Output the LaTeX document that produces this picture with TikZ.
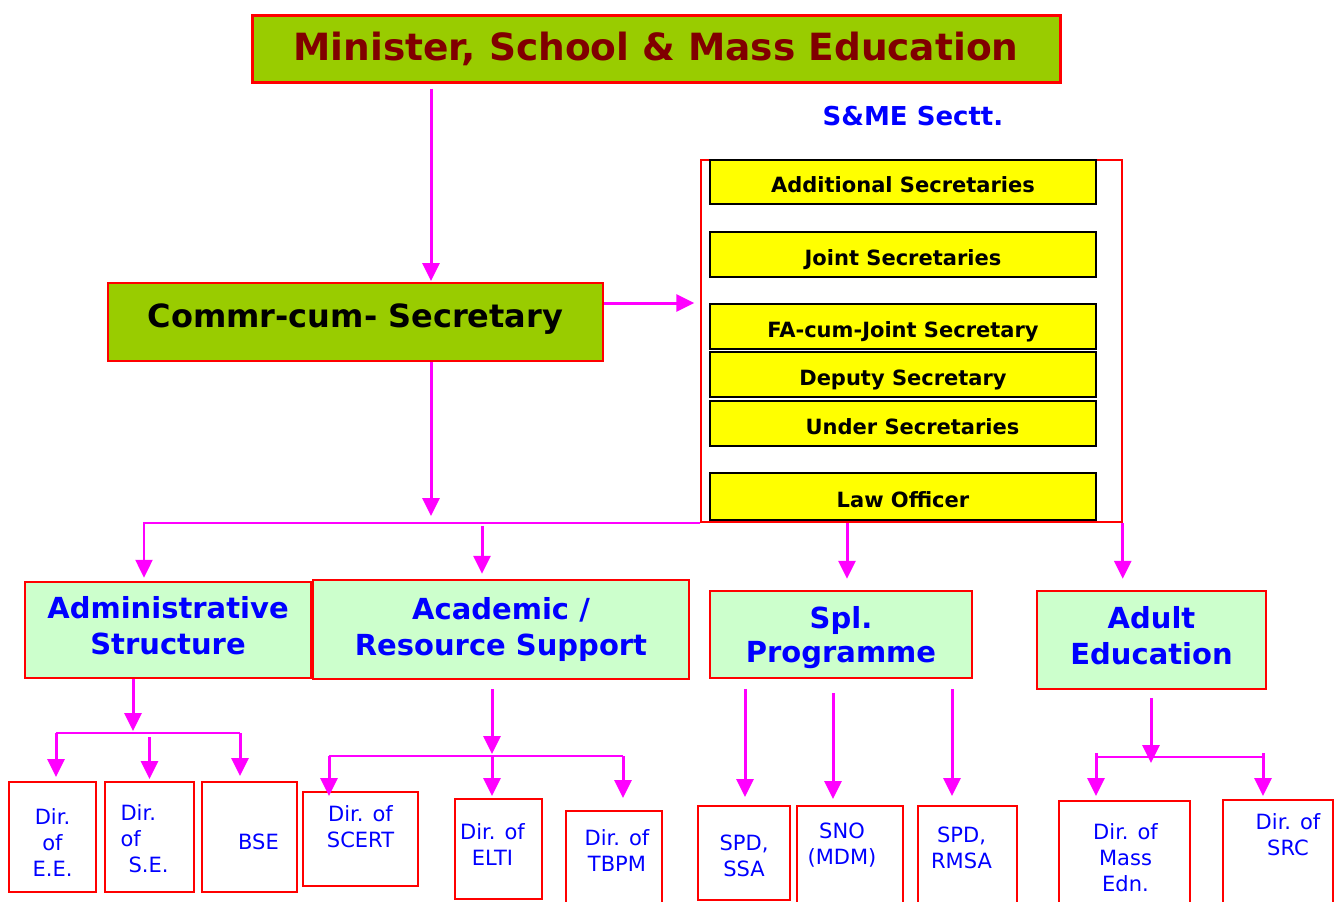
\documentclass[tikz,border=0pt]{standalone}
\usepackage{fontspec}
\setmainfont{DejaVu Sans}
\usetikzlibrary{arrows.meta,positioning,calc}
\definecolor{leaf}{HTML}{99CC00}
\definecolor{mint}{HTML}{CCFFCC}
\definecolor{maroon}{HTML}{800000}
\definecolor{pink}{HTML}{FF00FF}
\definecolor{lemon}{HTML}{FFFF00}
\definecolor{ink}{HTML}{0000FF}

\begin{document}
\begin{tikzpicture}[x=1pt, y=-1pt, >={Triangle[width=17pt,length=18pt]},
  link/.style={draw=pink, line width=3pt},
  bar/.style={draw=pink, line width=2.5pt},
  topbox/.style={draw=red, line width=3pt, fill=leaf, inner sep=0pt, text=maroon,
    font=\bfseries\fontsize{37.5}{42}\selectfont},
  greenbox/.style={draw=red, line width=2pt, fill=leaf, inner sep=0pt,
    font=\bfseries\fontsize{32}{38}\selectfont},
  secbox/.style={draw=black, line width=2pt, fill=lemon, inner sep=0pt, text height=22pt, text depth=1pt,
    minimum width=386pt, minimum height=45pt, font=\bfseries\fontsize{21}{25}\selectfont},
  headbox/.style={draw=red, line width=2.5pt, fill=mint, inner sep=0pt, text=ink,
    align=center, font=\bfseries\fontsize{29}{36}\selectfont},
  dirbox/.style={draw=red, line width=2pt, fill=white, inner sep=0pt},
  dirtext/.style={text=ink, align=center, inner sep=0pt, font=\fontsize{21}{26}\selectfont},
  node distance=27pt]
\useasboundingbox (0,0) rectangle (1334,902);

% top of the chart
\node[topbox, minimum width=808pt, minimum height=67pt] (M) at (656,48.5) {Minister, School \& Mass Education};
\node[greenbox, minimum width=495pt, minimum height=78pt, text height=24pt, text depth=14pt] (C) at (355.5,322) {Commr-cum- Secretary};
\node[text=ink, font=\bfseries\fontsize{26}{30}\selectfont] (S) at (913,116) {S\&ME Sectt.};

% secretariat
\node[draw=red, line width=1.5pt, minimum width=421pt, minimum height=362pt] (F) at (911.5,341) {};
\node[secbox, minimum height=44pt] (AS) at (903,182) {Additional Secretaries};
\node[secbox, below=26pt of AS] (JS) {Joint Secretaries};
\node[secbox, below=25pt of JS] (FA) {FA-cum-Joint Secretary};
\node[secbox, below=1pt of FA] (DS) {Deputy Secretary};
\node[secbox, below=2pt of DS] (US) {\hspace*{19pt}Under Secretaries};
\node[secbox, below=25pt of US, minimum height=47pt] (LO) {Law Officer};

% wings
\node[headbox, minimum width=286pt, minimum height=96pt, text depth=9pt] (AD) at (168,630) {Administrative\\Structure};
\node[headbox, minimum width=376pt, minimum height=99pt] (AC) at (501,629.5) {Academic /\\Resource Support};
\node[headbox, minimum width=262pt, minimum height=87pt, font=\bfseries\fontsize{29}{34}\selectfont, text depth=0pt] (SP) at (841,634.5) {Spl.\\Programme};
\node[headbox, minimum width=229pt, minimum height=98pt, text depth=9pt] (AE) at (1151.5,640) {Adult\\Education};

% directorates
\node[dirbox, minimum width=87pt, minimum height=110pt, label={[dirtext, yshift=-6pt]center:{Dir.\\of\\E.E.}}] (EE) at (52.5,837) {};
\node[dirbox, minimum width=89pt, minimum height=110pt, label={[dirtext, align=left, xshift=-5pt, yshift=-2pt]center:{Dir.\\of\\\hspace*{8pt}S.E.}}] (SE) at (149.5,837) {};
\node[dirbox, minimum width=95pt, minimum height=110pt, label={[dirtext, xshift=9pt, yshift=-5pt]center:{BSE}}] (BS) at (249.5,837) {};
\node[dirbox, minimum width=115pt, minimum height=94pt, label={[dirtext, yshift=12pt]center:{Dir. of\\SCERT}}] (SC) at (360.5,839) {};
\node[dirbox, minimum width=87pt, minimum height=100pt, label={[dirtext, xshift=-6pt, yshift=4pt]center:{Dir. of\\ELTI}}] (EL) at (498.5,849) {};
\node[dirbox, minimum width=96pt, minimum height=99pt, label={[dirtext, xshift=3pt, yshift=10pt]center:{Dir. of\\TBPM}}] (TB) at (614,860.5) {};
\node[dirbox, minimum width=92pt, minimum height=94pt, label={[dirtext, yshift=-3pt]center:{SPD,\\SSA}}] (SA) at (744,853) {};
\node[dirbox, minimum width=106pt, minimum height=104pt, label={[dirtext, xshift=-8pt, yshift=13pt]center:{SNO\\(MDM)}}] (SN) at (850,858) {};
\node[dirbox, minimum width=99pt, minimum height=104pt, label={[dirtext, xshift=-6pt, yshift=10pt]center:{SPD,\\RMSA}}] (RM) at (967.5,858) {};
\node[dirbox, minimum width=131pt, minimum height=109pt, label={[dirtext, xshift=1pt, yshift=-2pt]center:{Dir. of\\Mass\\Edn.}}] (ME) at (1124.5,855.5) {};
\node[dirbox, minimum width=110pt, minimum height=110pt, label={[dirtext, xshift=10pt, yshift=20pt]center:{Dir. of\\SRC}}] (SR) at (1278,855) {};

% main line
\coordinate (c0) at (431,516);
\coordinate (b1) at (144,523);
\coordinate (b2) at (482,0);
\coordinate (b3) at (847,0);
\draw[link,->,shorten <=5pt,shorten >=1pt] (M.south -| c0) -- (C.north -| c0);
\draw[link,->,shorten >=6pt] (C.east |- 0,303) -- (F.west |- 0,303);
\draw[link,->] (C.south -| c0) -- (c0);
\draw[bar,->,shorten >=3pt] (F.south west) -| (AD.north -| b1);
\draw[link,->,shorten <=3pt,shorten >=5pt] (F.south west -| b2) -- (AC.north -| b2);
\draw[link,->,shorten >=11pt] (F.south -| b3) -- (SP.north -| b3);
\draw[link,->,shorten >=11pt] (F.south east) -- (AE.north -| F.south east);

% administrative branch
\coordinate (p0) at (133,733);
\coordinate (p1) at (56,733);
\coordinate (p3) at (240,733);
\draw[link,->,shorten >=2pt] (AD.south -| p0) -- (p0);
\draw[bar] (p1) -- (p3);
\draw[link,->,shorten >=4pt] (p1) -- (EE.north -| p1);
\draw[link,->,shorten <=4pt,shorten >=2pt] (p1 -| SE.north) -- (SE.north);
\draw[link,->,shorten >=5pt] (p3) -- (BS.north -| p3);

% academic branch
\coordinate (r0) at (492,756);
\coordinate (r1) at (329,756);
\coordinate (r3) at (623,756);
\draw[link,->,shorten <=9pt,shorten >=2pt] (AC.south -| r0) -- (r0);
\draw[bar] (r1) -- (r3);
\draw[link,->,shorten >=-5pt] (r1) -- (SC.north -| r1);
\draw[link,->,shorten >=2pt] (r0) -- (EL.north -| r0);
\draw[link,->,shorten >=12pt] (r3) -- (TB.north -| r3);

% special programme branch
\coordinate (s1) at (745,0);
\coordinate (s2) at (833,0);
\coordinate (s3) at (952,0);
\draw[link,->,shorten <=10pt,shorten >=8pt] (SP.south -| s1) -- (SA.north -| s1);
\draw[link,->,shorten <=14pt,shorten >=6pt] (SP.south -| s2) -- (SN.north -| s2);
\draw[link,->,shorten <=10pt,shorten >=9pt] (SP.south -| s3) -- (RM.north -| s3);

% adult education branch
\coordinate (t0) at (1151,763);
\coordinate (t1) at (1096,757);
\coordinate (t2) at (1263,757);
\draw[link,->,shorten <=8pt] (AE.south -| t0) -- (t0);
\draw[bar] (t1) -- (t2);
\draw[link,->,shorten <=-4pt,shorten >=4pt] (t1) -- (ME.north -| t1);
\draw[link,->,shorten <=-4pt,shorten >=3pt] (t2) -- (SR.north -| t2);
\end{tikzpicture}
\end{document}
